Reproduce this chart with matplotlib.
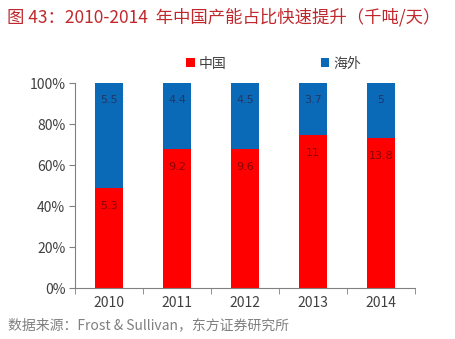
import numpy as np
import matplotlib.pyplot as plt

plt.rcParams['font.family'] = ['Noto Sans CJK SC', 'DejaVu Sans']

years = ["2010", "2011", "2012", "2013", "2014"]
china = [5.3, 9.2, 9.6, 11, 13.8]
overseas = [5.5, 4.4, 4.5, 3.7, 5]
china_labels = ["5.3", "9.2", "9.6", "11", "13.8"]
overseas_labels = ["5.5", "4.4", "4.5", "3.7", "5"]

red = "#FF0000"
blue = "#0A6AB8"

china = np.array(china)
overseas = np.array(overseas)
total = china + overseas
china_pct = china / total * 100
overseas_pct = overseas / total * 100

fig = plt.figure(figsize=(4.55, 3.39), dpi=100)
ax = fig.add_axes([0.165, 0.150, 0.747, 0.605])

x = np.arange(len(years))
width = 0.4
ax.bar(x, china_pct, width, color=red, label="中国")
ax.bar(x, overseas_pct, width, bottom=china_pct, color=blue, label="海外")

# value labels sit a little below the top of each segment
for i in range(len(years)):
    ax.annotate(china_labels[i], (x[i], china_pct[i]), xytext=(0, -13),
                textcoords="offset points", ha="center", va="center",
                fontsize=8, color="#8B0000", family="DejaVu Sans")
    ax.annotate(overseas_labels[i], (x[i], 100), xytext=(0, -12),
                textcoords="offset points", ha="center", va="center",
                fontsize=8, color="#1F3864", family="DejaVu Sans")

ax.set_xlim(-0.5, len(years) - 0.5)
ax.set_ylim(0, 100)
ax.set_yticks(np.arange(0, 101, 20))
ax.set_yticklabels([f"{v}%" for v in range(0, 101, 20)])
ax.set_xticks(x)
ax.set_xticklabels(years)
ax.set_xticks(np.arange(-0.5, len(years), 1), minor=True)
ax.tick_params(axis="x", which="major", length=0, pad=6)
ax.tick_params(axis="x", which="minor", length=4, color="#808080", direction="out")
ax.tick_params(axis="y", length=4, color="#808080", direction="out", pad=3)
ax.tick_params(labelsize=10, labelcolor="#404040")

for s in ["top", "right"]:
    ax.spines[s].set_visible(False)
for s in ["left", "bottom"]:
    ax.spines[s].set_color("#808080")

ax.legend(loc="lower center", bbox_to_anchor=(0.585, 1.0), ncol=2, frameon=False,
          fontsize=10, handlelength=0.6, handleheight=0.6, columnspacing=6.8,
          handletextpad=0.3, labelcolor="#404040")

fig.text(0.015, 0.948, "图 43：2010-2014  年中国产能占比快速提升（千吨/天）",
         fontsize=12.5, color="#C0282D", va="center", ha="left")
fig.text(0.018, 0.04, "数据来源：Frost & Sullivan，东方证券研究所",
         fontsize=10, color="#808080", va="center", ha="left")

fig.savefig("out.png", dpi=100)
